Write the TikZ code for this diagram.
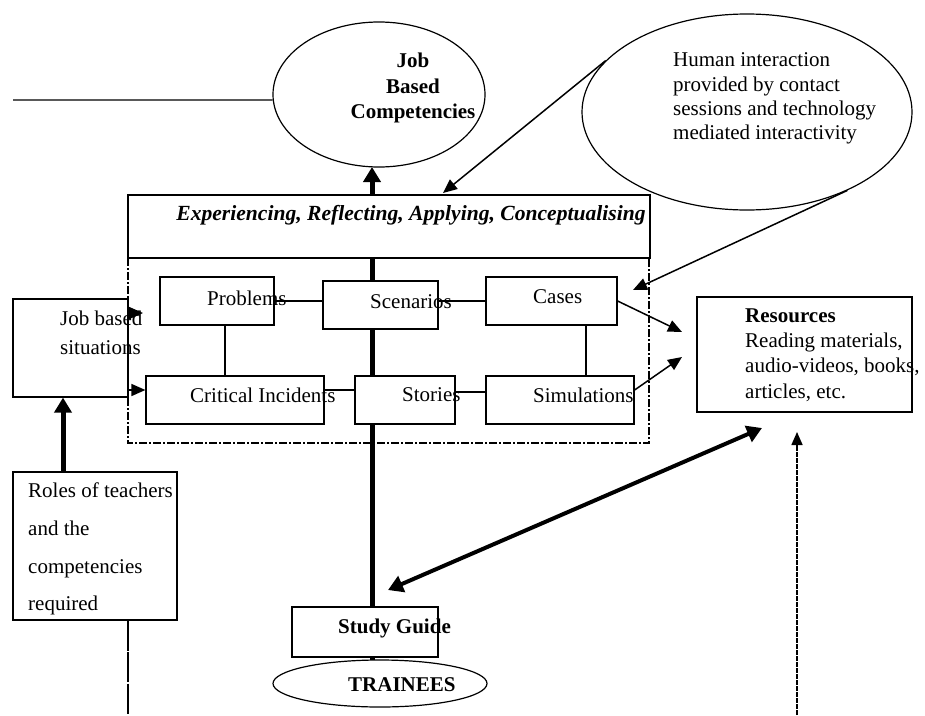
\documentclass[tikz,border=0pt]{standalone}
\usepackage{fontspec}
\setmainfont{Liberation Serif}
\usetikzlibrary{arrows.meta,shapes.geometric}
\begin{document}
\begin{tikzpicture}[x=1pt,y=-1pt,
  every node/.style={font=\fontsize{21}{25}\selectfont},
  box/.style={draw,line width=1.2pt,fill=white,inner sep=0pt},
  oval/.style={draw,ellipse,line width=1.2pt,fill=white,inner sep=0pt},
  txt/.style={anchor=west,inner sep=0pt,align=left},
  thin/.style={line width=1.2pt},
  arr/.style={line width=1.5pt,-{Triangle[length=14pt,width=12pt]}},
  thickarr/.style={line width=5pt,-{Triangle[length=15pt,width=17pt]}},
  dbarr/.style={line width=4pt,{Triangle[length=15pt,width=17pt]}-{Triangle[length=15pt,width=17pt]}}
]
\useasboundingbox[fill=white] (0,0) rectangle (925,715);

% Job based competencies
\node[oval,minimum width=212pt,minimum height=145pt] (jbc) at (379,94.5) {};
\node[inner sep=0pt,align=center,font=\fontsize{21}{25.5}\selectfont\bfseries] (jbct) at (413,88) {Job\\Based\\Competencies};
\coordinate (lft) at (13,100);
\draw[thin] (lft) -- (jbc.183);

% Human interaction
\node[oval,minimum width=330pt,minimum height=196pt] (hi) at (747,112) {};
\node[txt,font=\fontsize{21}{24.3}\selectfont] (hit) at (673,98.5) {Human interaction\\provided by contact\\sessions and technology\\mediated interactivity};

% thick vertical line trainees -> competencies
\coordinate (vtop) at (372,167);
\coordinate (vbot) at (372,662);
\draw[thickarr] (vbot) -- (vtop);

% dash-dot frame and experiencing box
\draw[line width=1.3pt,dash pattern=on 8pt off 2pt on 2pt off 2pt] (128,258) rectangle (649,443);
\node[box,minimum width=522pt,minimum height=63pt] (exp) at (389,226.5) {};
\node[inner sep=0pt,font=\fontsize{21.6}{25}\selectfont\bfseries\itshape] (expt) at (411,215) {Experiencing, Reflecting, Applying, Conceptualising};

% inner boxes
\node[box,minimum width=114pt,minimum height=48pt] (prob) at (217,301) {};
\node[box,minimum width=115pt,minimum height=48pt] (scen) at (380.5,305) {};
\node[box,minimum width=131pt,minimum height=48pt] (cases) at (551.5,301) {};
\node[box,minimum width=178pt,minimum height=48pt] (crit) at (235,400) {};
\node[box,minimum width=100pt,minimum height=48pt] (stor) at (405,400) {};
\node[box,minimum width=148pt,minimum height=48pt] (sim) at (560,400) {};

% connectors between inner boxes
\draw[thin] (prob.east) -- (prob.east -| scen.west);
\draw[thin] (cases.west -| scen.east) -- (cases.west);
\draw[thin] ([xshift=8pt]prob.south) -- ([xshift=8pt]prob.south |- crit.north);
\draw[thin] ([xshift=34.5pt]cases.south) -- ([xshift=26pt]sim.north);
\draw[thin] ([yshift=10pt]crit.east) -- ([yshift=10pt]stor.west);
\draw[thin] ([yshift=8pt]stor.east) -- ([yshift=8pt]sim.west);

\node[txt] (probt) at (207,298) {Problems};
\node[txt] (scent) at (370,302) {Scenarios};
\node[txt] (casest) at (533,297) {Cases};
\node[txt] (critt) at (190,395) {Critical Incidents};
\node[txt] (stort) at (402,395) {Stories};
\node[txt] (simt) at (533,395) {Simulations};

% job based situations
\node[box,minimum width=115pt,minimum height=98pt] (js) at (70.5,348) {};
\node[txt,font=\fontsize{21}{29}\selectfont] (jst) at (60,332.5) {Job based\\situations};
\coordinate (a1) at (143,313);
\draw[arr] (a1 -| js.east) -- (a1);
\draw[arr] ([yshift=10pt]crit.west -| js.east) -- ([yshift=10pt]crit.west);

% roles of teachers
\node[box,minimum width=164pt,minimum height=148pt] (roles) at (95,546) {};
\node[txt,font=\fontsize{21}{37.7}\selectfont] (rolest) at (28,549) {Roles of teachers\\and the\\competencies\\required};
\draw[thickarr] ([xshift=-7.5pt]js.south |- roles.north) -- ([xshift=-7.5pt]js.south);
\coordinate (b1) at (128,715);
\draw[line width=1.8pt,dash pattern=on 30pt off 1.5pt] (b1 |- roles.south) -- (b1);

% resources
\node[box,minimum width=215pt,minimum height=115pt] (res) at (804.5,354.5) {};
\node[txt,font=\fontsize{21}{25.3}\selectfont] (rest) at (745,355) {\textbf{Resources}\\Reading materials,\\audio-videos, books,\\articles, etc.};
\coordinate (r1) at (682,332);
\coordinate (r2) at (682,357);
\draw[arr] (cases.east) -- (r1);
\draw[arr] ([yshift=10pt]sim.east) -- (r2);

% arrows from human interaction
\coordinate (e1) at (443,193);
\coordinate (e2) at (633,290);
\draw[arr] (hi.160.9) -- (e1);
\draw[arr] (hi.-38.7) -- (e2);

% study guide and trainees
\node[box,minimum width=146pt,minimum height=50pt] (sg) at (365,632) {};
\node[txt,font=\fontsize{21}{25}\selectfont\bfseries] (sgt) at (338,628) {Study Guide};
\node[oval,minimum width=214pt,minimum height=47pt] (tr) at (380,683.5) {};
\node[txt,font=\fontsize{21}{25}\selectfont\bfseries] (trt) at (348,685) {TRAINEES};

% double arrow study guide <-> resources
\coordinate (d1) at (388,590);
\coordinate (d2) at (762,428);
\draw[dbarr] (d1) -- (d2);

% dotted arrow up to resources
\coordinate (u1) at (797,715);
\coordinate (u2) at (797,432);
\draw[line width=1.6pt,dash pattern=on 5pt off 1pt,-{Triangle[length=13pt,width=11pt]}] (u1) -- (u2);
\end{tikzpicture}
\end{document}
